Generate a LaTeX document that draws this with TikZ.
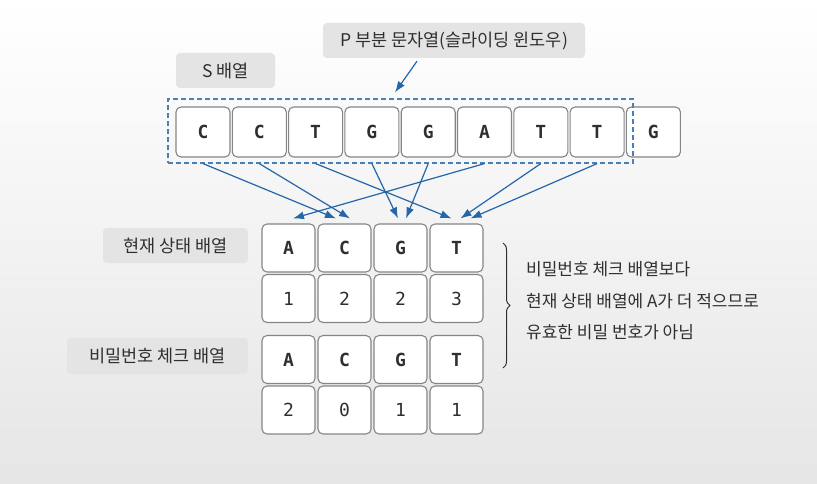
\documentclass[tikz,border=0pt]{standalone}
\usepackage{fontspec}
\setmainfont{Noto Sans CJK KR}
\newfontfamily\cellfont{DejaVu Sans Mono}
\usetikzlibrary{positioning,calc,arrows.meta,decorations.pathreplacing}
\definecolor{flowblue}{HTML}{2466A8}
\definecolor{winblue}{HTML}{4A80B4}
\definecolor{txtgray}{HTML}{2F2F2F}
\definecolor{tagfill}{HTML}{E4E4E4}
\definecolor{cellline}{HTML}{858585}
\tikzset{
    cell/.style={draw=cellline, fill=white, rounded corners=5pt, line width=1.1pt, minimum width=54pt, minimum height=50pt, inner sep=0pt, text=txtgray, font=\cellfont\bfseries\fontsize{18}{18}\selectfont},
    gridcell/.style={cell, minimum width=53pt, minimum height=48pt},
    numcell/.style={gridcell, font=\cellfont\fontsize{18}{18}\selectfont},
    tag/.style={fill=tagfill, rounded corners=4pt, inner sep=0pt, minimum height=35pt, text=txtgray, font=\fontsize{17.5}{17.5}\selectfont},
    window/.style={draw=winblue, dash pattern=on 5pt off 3pt, line width=1.2pt, minimum width=465pt, minimum height=64pt, inner sep=0pt},
    flow/.style={draw=flowblue, -{Latex[length=11pt,width=8pt]}, line width=1.2pt},
}

\begin{document}
\begin{tikzpicture}[x=1pt, y=-1pt]
    \shade[top color=white, bottom color=black!10] (0,0) rectangle (817,484);
    \useasboundingbox (0,0) rectangle (817,484);

    % S array and sliding window
    \foreach \i/\ch in {1/C, 2/C, 3/T, 4/G, 5/G, 6/A, 7/T, 8/T, 9/G}
        \node[cell] (s\i) at ({203+56.3*(\i-1)},132) {\ch};
    \node[window] (win) at (400.5,131) {};

    \node[tag, minimum width=99pt] (slab) at (225.5,70.5) {S 배열};
    \node[tag, minimum width=262pt] (plab) at (454,40.5) {P 부분 문자열(슬라이딩 윈도우)};
    \draw[flow] ([xshift=-37pt,yshift=-3pt]plab.south) -- ([xshift=-5.5pt,yshift=6pt]win.north);

    % current state / password check
    \foreach \j/\ch/\n/\m in {1/A/1/2, 2/C/2/0, 3/G/2/1, 4/T/3/1} {
        \node[gridcell] (c\j) at ({288.5+56*(\j-1)},248) {\ch};
        \node[numcell] (cn\j) at ({288.5+56*(\j-1)},298.5) {\n};
        \node[gridcell] (k\j) at ({288.5+56*(\j-1)},359.5) {\ch};
        \node[numcell] (kn\j) at ({288.5+56*(\j-1)},410) {\m};
    }
    \node[tag, minimum width=145pt] (curlab) at (175.5,245.5) {현재 상태 배열};
    \node[tag, minimum width=181pt, minimum height=36pt] (chklab) at (157.5,356) {비밀번호 체크 배열};

    \foreach \from/\to/\dx in {1/2/-8.5, 2/2/5.5, 3/4/-5, 4/3/-2.5, 5/3/5.5, 6/1/4.5, 7/4/4, 8/4/14}
        \draw[flow] (s\from.south |- win.south) -- ([xshift=\dx pt,yshift=5pt]c\to.north);

    % brace and note
    \coordinate (btop) at (503,243);
    \coordinate (bbot) at (503,368);
    \draw[decorate, decoration={brace, amplitude=7pt}, draw=txtgray, line width=1pt] (btop) -- (bbot);
    \node[anchor=west, align=left, inner sep=0pt, text=txtgray, font=\fontsize{17}{31.5}\selectfont] (note) at (526,301) {비밀번호 체크 배열보다\\현재 상태 배열에 A가 더 적으므로\\유효한 비밀 번호가 아님};
\end{tikzpicture}
\end{document}
